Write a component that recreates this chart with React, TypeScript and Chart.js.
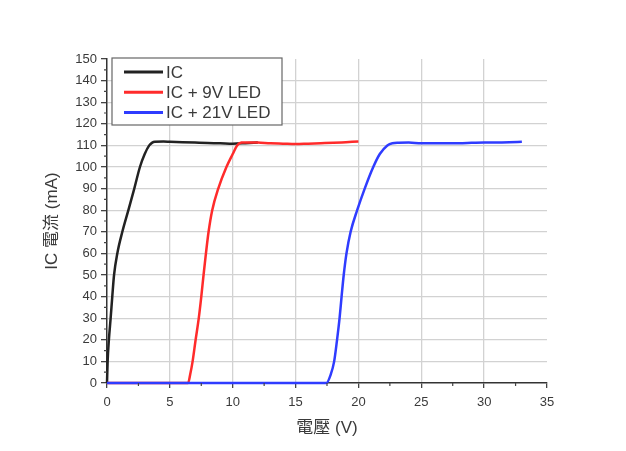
import React, { useEffect, useRef } from "react";
import { Chart, registerables } from "chart.js";

Chart.register(...registerables);

const seriesLabels = ["IC", "IC + 9V LED", "IC + 21V LED"];
const seriesColors = ["#222222", "#ff2b2b", "#2f3cff"];

const icX = [0, 0.05, 0.15, 0.29, 0.42, 0.56, 0.82, 1.22, 1.7, 2.17, 2.62, 3.0, 3.36, 3.6, 3.8, 4.5, 5, 6, 7, 8, 9, 10, 11, 12];
const icY = [0, 10, 20, 30, 40, 50, 60, 70, 80, 90, 100, 106, 110, 111.3, 111.7, 111.8, 111.7, 111.5, 111.3, 111.1, 111, 110.8, 111, 111.3];

const led9X = [0, 6.45, 6.62, 6.81, 7.05, 7.3, 7.5, 7.68, 7.87, 8.08, 8.37, 8.85, 9.5, 10.0, 10.35, 10.7, 11, 12, 13, 14, 15, 16, 17, 18, 19, 20];
const led9Y = [0, 0, 4, 10, 20, 30, 40, 50, 60, 70, 80, 90, 100, 106, 110, 111.3, 111.4, 111.3, 111, 110.8, 110.6, 110.8, 111, 111.2, 111.5, 111.8];

const led21X = [0, 17.45, 17.8, 18.07, 18.3, 18.5, 18.66, 18.83, 19.05, 19.38, 19.9, 20.5, 21.18, 21.7, 22.3, 22.7, 23.2, 24, 25, 26, 27, 28, 29, 30, 31, 32, 33];
const led21Y = [0, 0, 4, 10, 20, 30, 40, 50, 60, 70, 80, 90, 100, 106, 110, 111, 111.2, 111.3, 111, 111, 111, 111, 111.2, 111.4, 111.4, 111.5, 111.7];

const xTitle = "電壓 (V)";
const yTitle = "IC 電流 (mA)";

const FONT = "'Liberation Sans', Arial, 'Noto Sans CJK TC', sans-serif";
const TEXT = "#3a3a3a";

function toPoints(xs: number[], ys: number[]) {
  return xs.map((x, i) => ({ x, y: ys[i] }));
}

const minorTicks = {
  id: "minorTicks",
  afterDraw(chart: any) {
    const { ctx } = chart;
    const xs = chart.scales.x;
    const ys = chart.scales.y;
    ctx.save();
    ctx.strokeStyle = "#444";
    ctx.lineWidth = 1.2;
    ctx.beginPath();
    for (let v = xs.min + 2.5; v < xs.max; v += 5) {
      const p = xs.getPixelForValue(v);
      ctx.moveTo(p, xs.top);
      ctx.lineTo(p, xs.top + 3);
    }
    for (let v = ys.min + 5; v < ys.max; v += 10) {
      const p = ys.getPixelForValue(v);
      ctx.moveTo(ys.right, p);
      ctx.lineTo(ys.right - 3, p);
    }
    ctx.stroke();
    ctx.restore();
  },
};

const boxLegend = {
  id: "boxLegend",
  afterDraw(chart: any) {
    const { ctx, chartArea } = chart;
    const left = chartArea.left + 5;
    const top = chartArea.top - 1;
    const w = 170;
    const h = 67;
    ctx.save();
    ctx.fillStyle = "#ffffff";
    ctx.fillRect(left, top, w, h);
    ctx.strokeStyle = "#666";
    ctx.lineWidth = 1.2;
    ctx.strokeRect(left, top, w, h);
    ctx.font = `17px ${FONT}`;
    ctx.textBaseline = "middle";
    chart.data.datasets.forEach((ds: any, i: number) => {
      const y = top + 14 + i * 20.3;
      ctx.strokeStyle = ds.borderColor;
      ctx.lineWidth = 3;
      ctx.beginPath();
      ctx.moveTo(left + 12, y);
      ctx.lineTo(left + 51, y);
      ctx.stroke();
      ctx.fillStyle = TEXT;
      ctx.fillText(ds.label, left + 54, y + 1);
    });
    ctx.restore();
  },
};

export default function App() {
  const ref = useRef<HTMLCanvasElement>(null);
  useEffect(() => {
    document.body.style.margin = "0";
    const data = [toPoints(icX, icY), toPoints(led9X, led9Y), toPoints(led21X, led21Y)];
    const chart = new Chart(ref.current!, {
      type: "line",
      data: {
        datasets: data.map((d, i) => ({
          label: seriesLabels[i],
          data: d,
          borderColor: seriesColors[i],
          backgroundColor: seriesColors[i],
          borderWidth: 2.5,
          pointRadius: 0,
          cubicInterpolationMode: "monotone" as const,
          clip: false as any,
          order: 2 - i,
        })),
      },
      options: {
        animation: false,
        responsive: false,
        layout: { padding: { left: 38, top: 59, right: 79, bottom: 8 } },
        plugins: { legend: { display: false }, tooltip: { enabled: false } },
        scales: {
          x: {
            type: "linear",
            min: 0,
            max: 35,
            afterFit: (s: any) => {
              s.height = 60;
            },
            ticks: { stepSize: 5, color: TEXT, font: { family: FONT, size: 13 }, padding: 7 },
            grid: {
              color: (c: any) => (c.tick && (c.tick.value === 35 || c.tick.value === 0) ? "rgba(0,0,0,0)" : "#d2d2d2"),
              lineWidth: 1.3,
              tickColor: "#444",
              tickLength: 5,
            },
            border: { color: "#333", width: 1.5 },
            title: { display: true, text: xTitle, color: TEXT, font: { family: FONT, size: 17 }, padding: { top: 4, bottom: 4 } },
          },
          y: {
            min: 0,
            max: 150,
            afterFit: (s: any) => {
              s.width = 69;
            },
            ticks: { stepSize: 10, color: TEXT, font: { family: FONT, size: 13 }, padding: 4 },
            grid: {
              color: (c: any) => (c.tick && (c.tick.value === 150 || c.tick.value === 0) ? "rgba(0,0,0,0)" : "#d2d2d2"),
              lineWidth: 1.3,
              tickColor: "#444",
              tickLength: 6,
            },
            border: { color: "#333", width: 1.5 },
            title: { display: true, text: yTitle, color: TEXT, font: { family: FONT, size: 17 }, padding: { top: 4, bottom: 4 } },
          },
        },
      },
      plugins: [minorTicks, boxLegend],
    });
    return () => chart.destroy();
  }, []);
  return (
    <div style={{ width: 626, height: 451, position: "relative" }}>
      <canvas ref={ref} width={626} height={451} style={{ display: "block" }} />
    </div>
  );
}
